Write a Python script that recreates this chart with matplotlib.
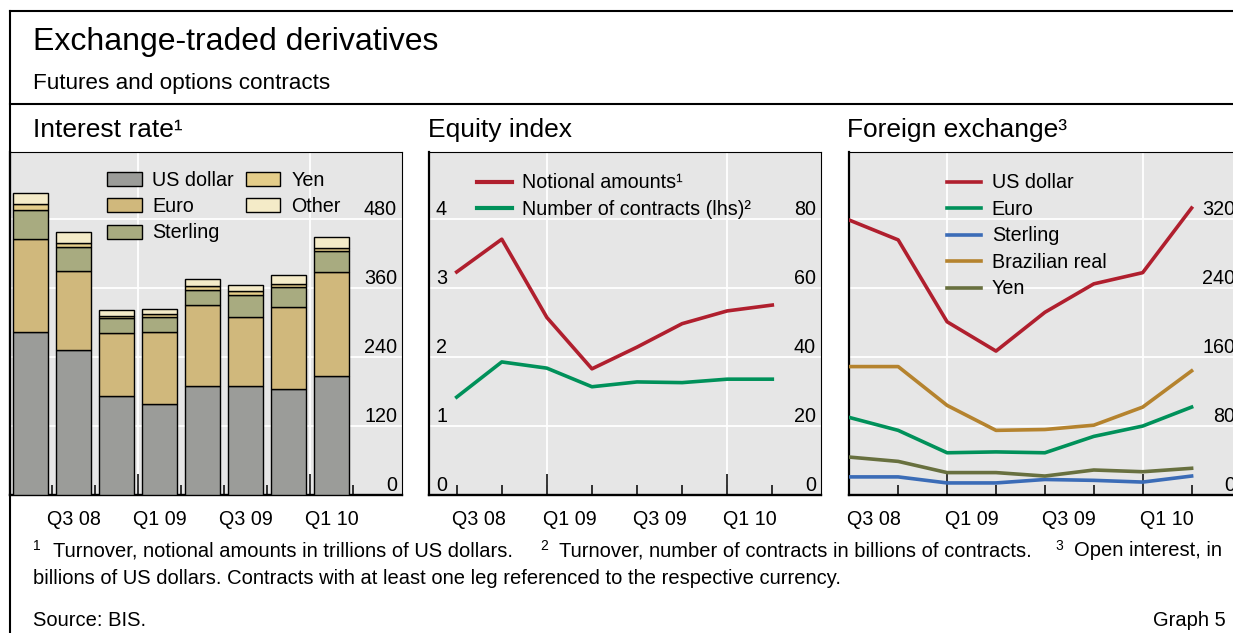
import matplotlib
matplotlib.use('Agg')
import matplotlib.pyplot as plt
from matplotlib.lines import Line2D
from matplotlib.patches import Patch

plt.rcParams['font.family'] = ['Liberation Sans', 'DejaVu Sans']

# ---------------- data ----------------
quarters = ['Q2 08', 'Q3 08', 'Q4 08', 'Q1 09', 'Q2 09', 'Q3 09', 'Q4 09', 'Q1 10']
label_quarters = ['Q3 08', 'Q1 09', 'Q3 09', 'Q1 10']

# Interest rate (turnover, trillions of US dollars)
ir_usd = [283, 252, 172, 159, 190, 190, 185, 207]
ir_euro = [162, 138, 110, 125, 140, 120, 142, 181]
ir_sterling = [50, 42, 25, 25, 27, 38, 34, 36]
ir_yen = [11, 7, 5, 5, 7, 6, 6, 5]
ir_other = [19, 19, 9, 9, 12, 12, 15, 19]

# Equity index
eq_notional = [64.7, 74.2, 51.5, 36.6, 42.9, 49.7, 53.4, 55.1]   # rhs
eq_contracts = [1.42, 1.93, 1.84, 1.57, 1.64, 1.63, 1.68, 1.68]  # lhs

# Foreign exchange (open interest, billions of US dollars)
fx_usd = [319, 296, 201, 167, 212, 245, 258, 333]
fx_euro = [90, 75, 49, 50, 49, 68, 80, 102]
fx_sterling = [21, 21, 14, 14, 18, 17, 15, 22]
fx_brl = [149, 149, 104, 75, 76, 81, 102, 144]
fx_yen = [44, 39, 26, 26, 22, 29, 27, 31]

# ---------------- style ----------------
W, H = 1233, 633
BG = '#e6e6e6'
RED, GREEN, BLUE, ORANGE, OLIVE = '#b01f2e', '#00915a', '#3b6cb7', '#b5832e', '#68703f'
C_USD, C_EUR, C_GBP, C_YEN, C_OTH = '#9b9c99', '#d0b87c', '#a8ab80', '#e4cd8a', '#f4ebc8'
FS = 14.2
PX = 0.72  # points per pixel at dpi 100

fig = plt.figure(figsize=(W / 100, H / 100), dpi=100)


def px_axes(x0, x1, y0, y1):
    return fig.add_axes([x0 / W, 1 - y1 / H, (x1 - x0) / W, (y1 - y0) / H])


def style(ax):
    ax.set_facecolor(BG)
    for s in ['top', 'right']:
        ax.spines[s].set_linewidth(0.8)
    ax.spines['bottom'].set_linewidth(1.7)
    ax.spines['left'].set_linewidth(1.6)
    ax.grid(True, axis='y', which='major', color='white', lw=1.3)
    ax.set_axisbelow(True)


def xaxis_setup(ax, bounds, years, labelpos):
    ax.set_xticks(years)
    ax.tick_params(axis='x', which='major', direction='in', length=21 * PX,
                   width=1.1, labelbottom=False)
    ax.set_xticks(labelpos, labels=label_quarters, minor=True)
    ax.tick_params(axis='x', which='minor', length=0, pad=10.5, labelsize=FS)
    ax.grid(True, axis='x', which='major', color='white', lw=1.3)
    sec = ax.secondary_xaxis('bottom')
    sec.set_xticks(bounds)
    sec.tick_params(direction='in', length=10 * PX, width=1.1, labelbottom=False)
    sec.spines['bottom'].set_visible(False)


def right_labels(ax, ticks):
    ax.set_yticks(ticks, labels=[str(t) for t in ticks], ha='right', va='bottom')
    ax.yaxis.tick_right()
    ax.tick_params(axis='y', length=0, pad=-5 * PX, labelsize=FS)


LEG = dict(loc='upper left', frameon=False, borderpad=0, borderaxespad=0,
           fontsize=FS, handlelength=1.75, handletextpad=0.55, labelspacing=0.38)

n = len(quarters)
idx = list(range(n))

# ---------------- panel 1: interest rate ----------------
ax1 = px_axes(10, 402, 152, 495)
style(ax1)
bottoms = [0] * n
for vals, col, name in [(ir_usd, C_USD, 'US dollar'), (ir_euro, C_EUR, 'Euro'),
                        (ir_sterling, C_GBP, 'Sterling'), (ir_yen, C_YEN, 'Yen'),
                        (ir_other, C_OTH, 'Other')]:
    ax1.bar(idx, vals, width=0.8, bottom=bottoms, color=col, edgecolor='black',
            linewidth=1.0, label=name, zorder=3)
    bottoms = [b + v for b, v in zip(bottoms, vals)]
ax1.set_xlim(-0.477, 8.64)
ax1.set_ylim(0, 596.5)
right_labels(ax1, [0, 120, 240, 360, 480])
xaxis_setup(ax1, [i + 0.5 for i in idx], [2.5, 6.5], [1, 3, 5, 7])
h = [Patch(facecolor=c, edgecolor='black', lw=1.0) for c in [C_USD, C_EUR, C_GBP, C_YEN, C_OTH]]
ax1.legend(h, ['US dollar', 'Euro', 'Sterling', 'Yen', 'Other'], ncol=2,
           bbox_to_anchor=(97 / 392, 1 - 18.5 / 343), handleheight=0.72,
           columnspacing=0.6, **LEG)

# ---------------- panel 2: equity index ----------------
ax2 = px_axes(429, 821, 152, 495)
style(ax2)
ax2.plot(idx, eq_contracts, color=GREEN, lw=2.6, zorder=3)
ax2.set_xlim(-0.614, 8.08)
ax2.set_ylim(0, 4.975)
ax2.set_yticks([0, 1, 2, 3, 4], labels=['0', '1', '2', '3', '4'], ha='left', va='bottom')
ax2.tick_params(axis='y', length=0, pad=-7 * PX, labelsize=FS)
xaxis_setup(ax2, idx, [2, 6], [0.5, 2.5, 4.5, 6.5])
ax2b = ax2.twinx()
for s in ax2b.spines.values():
    s.set_visible(False)
ax2b.plot(idx, eq_notional, color=RED, lw=2.6, zorder=3)
ax2b.set_ylim(0, 99.5)
right_labels(ax2b, [0, 20, 40, 60, 80])
hl = [Line2D([], [], color=RED, lw=3), Line2D([], [], color=GREEN, lw=3)]
ax2b.legend(hl, ['Notional amounts¹', 'Number of contracts (lhs)²'],
            bbox_to_anchor=(48 / 392, 1 - 21.5 / 343), **LEG)

# ---------------- panel 3: foreign exchange ----------------
ax3 = px_axes(848.5, 1240.5, 152, 495)
style(ax3)
series3 = [(fx_usd, RED, 'US dollar'), (fx_euro, GREEN, 'Euro'),
           (fx_sterling, BLUE, 'Sterling'), (fx_brl, ORANGE, 'Brazilian real'),
           (fx_yen, OLIVE, 'Yen')]
for vals, col, name in series3:
    ax3.plot(idx, vals, color=col, lw=2.6, label=name, zorder=3)
ax3.set_xlim(-0.016, 8.0)
ax3.set_ylim(0, 398)
right_labels(ax3, [0, 80, 160, 240, 320])
xaxis_setup(ax3, idx, [2, 6], [0.5, 2.5, 4.5, 6.5])
ax3.legend(bbox_to_anchor=(98 / 392, 1 - 21.5 / 343), **LEG)

# ---------------- frame & texts ----------------
fig.add_artist(Line2D([10 / W, 10 / W], [0, 1 - 10.5 / H], color='black', lw=1.5,
                      transform=fig.transFigure))
fig.add_artist(Line2D([10 / W, 1], [1 - 11 / H] * 2, color='black', lw=1.5,
                      transform=fig.transFigure))
fig.add_artist(Line2D([10 / W, 1], [1 - 104 / H] * 2, color='black', lw=1.5,
                      transform=fig.transFigure))


def ftext(x, y, s, **kw):
    return fig.text(x / W, 1 - y / H, s, **kw)


ftext(33, 42, 'Exchange-traded derivatives', fontsize=23, va='center')
ftext(33, 83, 'Futures and options contracts', fontsize=16.2, va='center')
ftext(33, 130, 'Interest rate¹', fontsize=19, va='center')
ftext(428, 130, 'Equity index', fontsize=19, va='center')
ftext(847, 130, 'Foreign exchange³', fontsize=19, va='center')

FN = 14.5
for xs, s in [(33.5, '1'), (540, '2'), (1055, '3')]:
    ftext(xs, 546, s, fontsize=10, va='center')
for xs, s in [(53, 'Turnover, notional amounts in trillions of US dollars.'),
              (559, 'Turnover, number of contracts in billions of contracts.'),
              (1074, 'Open interest, in')]:
    ftext(xs, 551, s, fontsize=FN, va='center')
ftext(33, 578, 'billions of US dollars. Contracts with at least one leg referenced '
               'to the respective currency.', fontsize=FN, va='center')
ftext(33, 620, 'Source: BIS.', fontsize=FN, va='center')
ftext(1226, 620, 'Graph 5', fontsize=FN, va='center', ha='right')

fig.savefig('out.png', dpi=100, facecolor='white')
